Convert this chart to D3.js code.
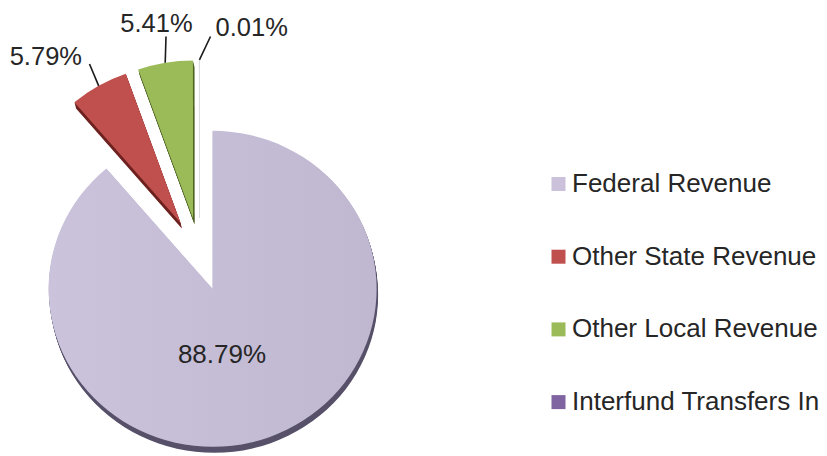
<!DOCTYPE html>
<html>
<head>
<meta charset="utf-8">
<script src="https://cdn.jsdelivr.net/npm/d3@7"></script>
<style>
  html, body { margin: 0; padding: 0; background: #fff; }
  svg { display: block; }
  text { font-family: "Liberation Sans", Arial, sans-serif; fill: #262626; }
</style>
</head>
<body>
<svg id="chart" width="827" height="456"></svg>
<script>
// ---- data ----
const categories = ["Federal Revenue", "Other State Revenue", "Other Local Revenue", "Interfund Transfers In"];
const values = [88.79, 5.79, 5.41, 0.01];
const valueLabels = ["88.79%", "5.79%", "5.41%", "0.01%"];
const faceColors = ["#c4bdd5", "#c0504d", "#9bbb59", "#8064a2"];
const sideColors = ["#58516a", "#6e2220", "#4f6424", "#4a3a62"];
const legendColors = ["#ccc1da", "#c0504d", "#9bbb59", "#8064a2"];

// ---- layout ----
const W = 827, H = 456;
const cx = 199.5, cy = 254.5;
const rx = 164, ry = 158;
const explode = 38;
const depth = 6;

const svg = d3.select("#chart");
const defs = svg.append("defs");
const grad = defs.append("linearGradient").attr("id", "fedGrad")
  .attr("x1", "0%").attr("x2", "100%").attr("y1", "0%").attr("y2", "0%");
grad.append("stop").attr("offset", "0%").attr("stop-color", "#cac3db");
grad.append("stop").attr("offset", "100%").attr("stop-color", "#c0b8d1");

const pie = d3.pie().sort(null).value(d => d);
const arcs = pie(values);
const arc = d3.arc().innerRadius(0).outerRadius(rx);
const sy = ry / rx;

const g = svg.append("g").attr("transform", `translate(${cx},${cy}) scale(1,${sy})`);

function offset(d) {
  const m = (d.startAngle + d.endAngle) / 2;
  return [explode * Math.sin(m), -explode * Math.cos(m)];
}

// side (extrusion) layers
const sides = g.append("g");
arcs.forEach((d, i) => {
  if (i === 3) return; // too thin to show a side
  const [ox, oy] = offset(d);
  for (let s = depth; s >= 1; s--) {
    sides.append("path")
      .attr("d", arc(d))
      .attr("transform", `translate(${ox + s * 0.25},${oy + s / sy})`)
      .attr("fill", sideColors[i]);
  }
});

// top faces
const faces = g.append("g");
arcs.forEach((d, i) => {
  const [ox, oy] = offset(d);
  faces.append("path")
    .attr("d", arc(d))
    .attr("transform", `translate(${ox},${oy})`)
    .attr("fill", i === 0 ? "url(#fedGrad)" : faceColors[i])
    .attr("stroke", i === 3 ? "#dcdcdc" : "none")
    .attr("stroke-width", i === 3 ? 1 : 0)
    .attr("vector-effect", "non-scaling-stroke");
});

// ---- data labels ----
function arcPoint(d, frac) {
  const m = (d.startAngle + d.endAngle) / 2;
  const [ox, oy] = offset(d);
  return [cx + ox + rx * frac * Math.sin(m), cy + (oy - rx * frac * Math.cos(m)) * sy];
}

const labelG = svg.append("g");
// Federal label inside
labelG.append("text").attr("x", 222).attr("y", 363)
  .attr("text-anchor", "middle").attr("font-size", 26).text(valueLabels[0]);

// leader lines and outside labels
const leaders = [
  { i: 1, from: [89.5, 64], anchor: "end", tx: 82, ty: 64.5 },
  { i: 2, from: [166, 36.5], anchor: "middle", tx: 156.5, ty: 31.5 },
  { i: 3, from: [210.5, 36.5], anchor: "start", tx: 215.5, ty: 36 }
];
leaders.forEach(l => {
  const d = arcs[l.i];
  const end = arcPoint(d, 1.0);
  labelG.append("line")
    .attr("x1", l.from[0]).attr("y1", l.from[1])
    .attr("x2", end[0]).attr("y2", end[1])
    .attr("stroke", "#1a1a1a").attr("stroke-width", 1.6);
  labelG.append("text").attr("x", l.tx).attr("y", l.ty)
    .attr("text-anchor", l.anchor).attr("font-size", 25.5).text(valueLabels[l.i]);
});

// ---- legend ----
const legend = svg.append("g");
const legY0 = 192, legStep = 72.7;
categories.forEach((c, i) => {
  const y = legY0 + i * legStep;
  legend.append("rect").attr("x", 551.5).attr("y", y - 15).attr("width", 14).attr("height", 14)
    .attr("fill", legendColors[i]);
  legend.append("text").attr("x", 572).attr("y", y).attr("font-size", 26).text(c);
});
</script>
</body>
</html>
